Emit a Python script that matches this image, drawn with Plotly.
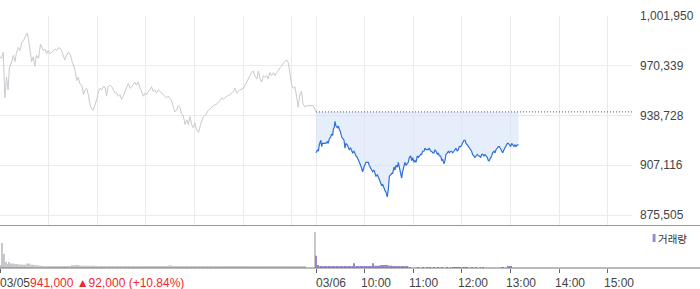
import plotly.graph_objects as go

# ---------------- data ----------------
W, H = 700, 289
DAY_MIN = 390                      # 09:00 -> 15:30
dates = ["03/05", "03/06"]
prev_close = 941000
change = 92000
change_pct = 10.84
hour_offsets = [60, 120, 180, 240, 300, 360]
hour_labels = ["10:00", "11:00", "12:00", "13:00", "14:00", "15:00"]
y_ticks = [875505, 907116, 938728, 970339, 1001950]
y_range = [868516, 1001950]
vol_range = [0, 42]

# day 1 (03/05): minutes since 09:00, price in thousand won
d1_min = [0, 2, 4, 6, 8, 10, 11.5, 14.5, 16.5, 18.5,
          20, 22.5, 24.5, 27, 29.5, 32, 33.5, 35, 37, 39,
          41, 43, 45, 47.5, 50, 53.5, 55.5, 57.5, 59.5, 61.5,
          64, 66, 68, 70, 73, 76, 78, 80, 82, 84.5,
          87, 89.5, 92.5, 94.5, 96.5, 98.5, 101, 103, 105, 107,
          109, 111, 113, 115, 117, 119.5, 121.5, 123.5, 125.5, 127.5,
          129.5, 131.5, 133.5, 135.5, 138, 140, 142, 144, 146, 148,
          150, 152, 154, 156.5, 158.5, 160.5, 162.5, 164.5, 166.5, 168.5,
          170.5, 173, 175, 177, 179, 181, 183, 185, 187, 189,
          191, 193, 195.5, 197.5, 199.5, 201.5, 203.5, 205.5, 207.5, 210,
          212, 214, 216, 218, 220, 222, 224, 226, 228.5, 230.5,
          232.5, 234.5, 236.5, 238.5, 240.5, 242.5, 245, 247, 249, 251,
          253, 255, 257, 259, 263.5, 267.5, 271.5, 273.5, 275.5, 280,
          284, 288, 290, 292, 294, 296, 300.5, 304.5, 306.5, 308.5,
          310.5, 312.5, 314.5, 317, 319, 321, 323, 325, 327, 329,
          331, 333, 335, 337.5, 339.5, 341.5, 343.5, 345.5, 347.5, 349.5,
          351.5, 354, 356, 358, 360, 362, 364, 366, 368, 370,
          372, 374, 376.5, 378.5, 386.5, 390]
d1_price_k = [976, 975, 979, 950, 963, 955, 969, 973, 977, 973,
              978, 982, 980, 985, 987, 989, 991, 988, 980, 973,
              976, 970, 977, 975, 984, 980, 981, 978, 980, 978,
              979, 980, 981, 980, 982, 980, 977, 974, 977, 979,
              977, 972, 968, 961, 963, 959, 958, 952, 955, 956,
              952, 946, 943, 942, 945, 949, 954, 956, 955, 957,
              957, 951, 957, 958, 957, 955, 953, 953, 951, 952,
              949, 951, 954, 957, 959, 956, 957, 959, 960, 958,
              960, 956, 953, 951, 953, 952, 954, 955, 957, 954,
              955, 953, 955, 954, 953, 952, 951, 950, 951, 949,
              948, 944, 941, 942, 945, 944, 940, 939, 933, 936,
              933, 938, 933, 931, 934, 930, 928, 932, 935, 938,
              939, 940, 942, 943, 945, 946, 948, 950, 949, 951,
              952, 954, 956, 953, 954, 955, 956, 960, 963, 965,
              966, 967, 964, 962, 967, 962, 960, 964, 963, 964,
              962, 966, 964, 966, 964, 966, 967, 969, 970, 972,
              973, 974, 972, 964, 958, 956, 957, 951, 944, 952,
              954, 946, 944, 945, 945, 941]

# day 2 (03/06): minutes since 09:00, price in thousand won
d2_min = [0, 2, 3, 4, 6, 7, 8, 10, 12, 14,
          15, 16.5, 18, 19.3, 20.6, 21.4, 22.6, 23.4, 24.7, 26.3,
          27.6, 28.8, 30.4, 31.7, 32.9, 34.6, 35.8, 37, 38.7, 39.9,
          41.1, 42.8, 44, 45.2, 46.9, 48.1, 49.4, 51, 52.2, 53.5,
          55.1, 56.4, 57.6, 59.2, 60.5, 61.7, 63.4, 64.6, 65.8, 67.5,
          68.7, 69.9, 71.6, 72.8, 74, 75.7, 76.9, 78.2, 79.8, 81,
          82.3, 83.9, 85.2, 86.4, 88, 89.3, 90.5, 92.1, 93.4, 94.6,
          96.3, 97.5, 98.7, 100.4, 101.6, 102.8, 104.5, 105.7, 106.9, 108.6,
          109.8, 111.1, 112.7, 113.9, 115.2, 116.8, 118.1, 119.3, 121, 122.2,
          123.4, 125.1, 126.3, 127.5, 129.2, 130.4, 131.6, 133.3, 134.5, 135.8,
          137.4, 138.6, 139.9, 141.5, 142.8, 144, 145.6, 146.9, 148.1, 149.8,
          151, 152.2, 153.9, 155.1, 156.3, 158, 159.2, 160.4, 162.1, 163.3,
          164.6, 166.2, 167.4, 168.7, 170.3, 171.5, 172.8, 174.4, 175.7, 176.9,
          178.5, 179.8, 181, 182.6, 183.9, 185.1, 186.8, 188, 189.2, 190.9,
          192.1, 193.3, 195, 196.2, 197.5, 199.1, 200.3, 201.6, 203.2, 204.5,
          205.7, 207.3, 208.6, 209.8, 211.5, 212.7, 213.9, 215.6, 216.8, 218,
          219.7, 220.9, 222.1, 223.8, 225, 226.3, 227.9, 229.1, 230.4, 232,
          233.3, 234.5, 236.1, 237.4, 238.6, 240.3, 241.5, 242.7, 244.4, 245.6,
          246.8, 248.5, 250]
d2_price_k = [915, 917, 916, 920, 923, 919, 921, 921, 921, 922,
              921, 924, 925, 927, 926, 930, 931, 935, 932, 931,
              932, 930, 928, 925, 924, 923, 918, 921, 920, 918,
              917, 918, 916, 915, 916, 914, 913, 912, 910, 909,
              907, 905, 903, 906, 908, 909, 909, 909, 907, 905,
              904, 903, 904, 901, 900, 901, 899, 898, 896, 894,
              895, 892, 891, 890, 887, 892, 900, 901, 902, 902,
              906, 904, 907, 906, 909, 906, 902, 899, 903, 907,
              909, 907, 908, 909, 912, 913, 910, 912, 909, 910,
              909, 913, 912, 913, 914, 914, 916, 916, 918, 917,
              917, 917, 918, 916, 916, 915, 915, 917, 916, 914,
              915, 913, 913, 910, 911, 908, 910, 914, 915, 916,
              915, 916, 916, 915, 916, 917, 918, 916, 917, 919,
              919, 920, 921, 923, 923, 921, 920, 919, 918, 917,
              916, 914, 913, 912, 913, 914, 913, 913, 912, 914,
              914, 913, 914, 913, 912, 910, 910, 912, 913, 915,
              916, 915, 917, 918, 919, 919, 917, 916, 915, 917,
              918, 919, 921, 921, 920, 919, 921, 920, 919, 920,
              919, 920, 920]

# volume (relative units); single-minute bars and 5-minute bins
vol1_tick_min = [1, 2, 3, 4, 5, 6, 7, 8, 9, 10, 11, 12, 389]
vol1_tick_val = [3, 4, 25, 4, 14, 5, 6, 4, 4, 4, 6, 4, 36]
vol1_bin_min = list(range(15, 380, 5))
vol1_bin_val = [4.5, 4.0, 3.5, 3.3, 4.5, 3.3, 2.8, 2.3, 1.5, 1.3,
                1.3, 1.2, 1.5, 1.3, 1.4, 2.8, 3.0, 2.3, 2.3, 2.2,
                2.3, 1.8, 1.4, 1.3, 1.3, 1.4, 1.3, 1.3, 1.3, 1.5,
                1.3, 1.2, 1.3, 1.4, 1.3, 1.3, 1.3, 1.6, 1.8, 2.6,
                2.0, 1.8, 1.6, 1.8, 1.7, 1.5, 1.6, 1.6, 1.5, 1.7,
                1.6, 1.6, 1.8, 1.6, 1.5, 1.6, 1.7, 1.6, 1.6, 1.7,
                1.6, 1.7, 1.7, 1.6, 1.6, 1.7, 1.6, 1.8, 1.7, 1.7,
                1.8, 1.7, 1.6]
vol2_tick_min = [0, 1, 2, 3, 47, 70,
                 116, 126, 132, 137, 141, 146, 151, 155, 162, 166,
                 169, 171, 173, 175, 178, 182, 184, 186, 192, 198,
                 203, 206, 229, 231, 237, 239, 241]
vol2_tick_val = [12.3, 3, 3, 2.5, 4.7, 4.7,
                 1, 1, 1, 1, 1, 1, 1, 1, 1, 1,
                 1, 1, 1, 1, 1, 1, 1, 1, 1, 1,
                 1, 1, 1, 1, 1.3, 1.3, 1.3]
vol2_bin_min = [6.5, 11.5, 16.5, 21.5, 26.5, 31.5, 36.5, 41.5, 46.5, 51.5, 56.5,
                61.5, 66.5, 71.5, 76.5, 81.5, 86.5, 91.5, 96.5, 101.5, 106.5, 111.5]
vol2_bin_val = [1.7, 1.7, 2.0, 1.7, 1.8, 1.7, 2.0, 1.7, 1.8, 2.0, 2.0,
                2.0, 2.0, 2.3, 2.3, 3.0, 3.0, 2.3, 1.3, 1.3, 1.3, 1.3]

# ---------------- styling ----------------
FONT = "Liberation Sans, Arial, Noto Sans CJK KR, sans-serif"
GRAY_LINE = "#c9c9cf"
BLUE = "#2e6fd8"
FILL = "rgba(214,228,248,0.62)"
VOL_GRAY = "#c8c8cc"
VOL_PURPLE = "#9a86c8"
GRID = "#ebebeb"
TEXT = "#444444"
RED = "#f0282d"


def px_x(p):
    return p / W


def px_y(p):
    return 1 - p / H


x_dom = [0, px_x(632)]
main_dom = [px_y(226), px_y(16)]
vol_dom = [px_y(268), px_y(226)]

d2_x = [DAY_MIN + m for m in d2_min]

fig = go.Figure()
fig.add_trace(go.Scatter(x=d1_min, y=[p * 1000 for p in d1_price_k], mode="lines",
                         line=dict(color=GRAY_LINE, width=1), hoverinfo="skip"))
fig.add_trace(go.Scatter(x=[d2_x[0], d2_x[-1]], y=[prev_close, prev_close], mode="lines",
                         line=dict(width=0, color=FILL), hoverinfo="skip"))
fig.add_trace(go.Scatter(x=d2_x, y=[p * 1000 for p in d2_price_k], mode="lines",
                         line=dict(color=BLUE, width=1.2), fill="tonexty", fillcolor=FILL,
                         hoverinfo="skip"))
fig.add_trace(go.Scatter(x=[DAY_MIN, 2 * DAY_MIN], y=[prev_close, prev_close], mode="lines",
                         line=dict(color="#555555", width=1, dash="1px,2px"), hoverinfo="skip"))

fig.add_trace(go.Bar(x=vol1_bin_min, y=vol1_bin_val, width=5, marker=dict(color=VOL_GRAY, line=dict(width=0)),
                     xaxis="x2", yaxis="y2", hoverinfo="skip"))
fig.add_trace(go.Bar(x=vol1_tick_min, y=vol1_tick_val, width=1.2, marker=dict(color=VOL_GRAY, line=dict(width=0)),
                     xaxis="x2", yaxis="y2", hoverinfo="skip"))
fig.add_trace(go.Bar(x=[DAY_MIN + m for m in vol2_bin_min], y=vol2_bin_val, width=5,
                     marker=dict(color=VOL_PURPLE, line=dict(width=0)),
                     xaxis="x2", yaxis="y2", hoverinfo="skip"))
fig.add_trace(go.Bar(x=[DAY_MIN + m for m in vol2_tick_min], y=vol2_tick_val, width=1.2,
                     marker=dict(color=VOL_PURPLE, line=dict(width=0)),
                     xaxis="x2", yaxis="y2", hoverinfo="skip"))

grid_x = [0] + hour_offsets + [DAY_MIN] + [DAY_MIN + h for h in hour_offsets]
tick_x = [0, DAY_MIN] + [DAY_MIN + h for h in hour_offsets]

annotations = []
annotations.append(dict(
    x=0, xref="x2", y=px_y(283), yref="paper", xanchor="left", yanchor="middle", showarrow=False,
    text=f"{dates[0]}<span style='color:{RED}'>{prev_close:,} ▲{change:,} (+{change_pct:.2f}%)</span>",
    font=dict(family=FONT, size=12, color=TEXT), xshift=-2))
annotations.append(dict(
    x=DAY_MIN, xref="x2", y=px_y(283), yref="paper", xanchor="left", yanchor="middle", showarrow=False,
    text=dates[1], font=dict(family=FONT, size=12, color=TEXT), xshift=-2))
for h, lab in zip(hour_offsets, hour_labels):
    annotations.append(dict(
        x=DAY_MIN + h, xref="x2", y=px_y(283), yref="paper", xanchor="left", yanchor="middle",
        showarrow=False, text=lab, font=dict(family=FONT, size=12, color=TEXT), xshift=-6))
annotations.append(dict(
    x=px_x(656), xref="paper", y=px_y(238), yref="paper", xanchor="left", yanchor="middle",
    showarrow=False, text="거래량", font=dict(family="Noto Sans CJK KR", size=10.5, color="#333333")))

shapes = [
    dict(type="line", xref="paper", yref="paper", x0=0, x1=1, y0=px_y(225.5), y1=px_y(225.5),
         line=dict(color="#999999", width=1)),
    dict(type="line", xref="paper", yref="paper", x0=0, x1=1, y0=px_y(268), y1=px_y(268),
         line=dict(color="#777777", width=1)),
    dict(type="rect", xref="paper", yref="paper", x0=px_x(652.7), x1=px_x(655.5),
         y0=px_y(242), y1=px_y(234), fillcolor=VOL_PURPLE, line=dict(width=0)),
]

fig.update_layout(
    width=W, height=H, margin=dict(l=0, r=0, t=0, b=0, pad=0, autoexpand=False),
    paper_bgcolor="white", plot_bgcolor="white", showlegend=False, barmode="overlay",
    font=dict(family=FONT, size=12, color=TEXT),
    xaxis=dict(domain=x_dom, range=[0, 2 * DAY_MIN], anchor="y", tickvals=grid_x,
               showticklabels=False, ticks="", showgrid=True, gridcolor=GRID, gridwidth=1,
               zeroline=False, showline=False, automargin=False),
    yaxis=dict(domain=main_dom, range=y_range, anchor="x", side="right", tickvals=y_ticks,
               ticktext=[f"{v:,}" for v in y_ticks], ticks="", showgrid=True, gridcolor=GRID,
               zeroline=False, showline=False, ticklabelstandoff=7, automargin=False,
               tickfont=dict(family=FONT, size=12, color=TEXT)),
    xaxis2=dict(domain=x_dom, range=[0, 2 * DAY_MIN], anchor="y2", tickvals=tick_x,
                showticklabels=False, ticks="outside", ticklen=4, tickcolor="#666666", tickwidth=1,
                showgrid=False, zeroline=False, showline=False, automargin=False),
    yaxis2=dict(domain=vol_dom, range=vol_range, anchor="x2", showticklabels=False, ticks="",
                showgrid=False, zeroline=False, showline=False, automargin=False),
    annotations=annotations, shapes=shapes,
)

fig.write_html("out.html")
